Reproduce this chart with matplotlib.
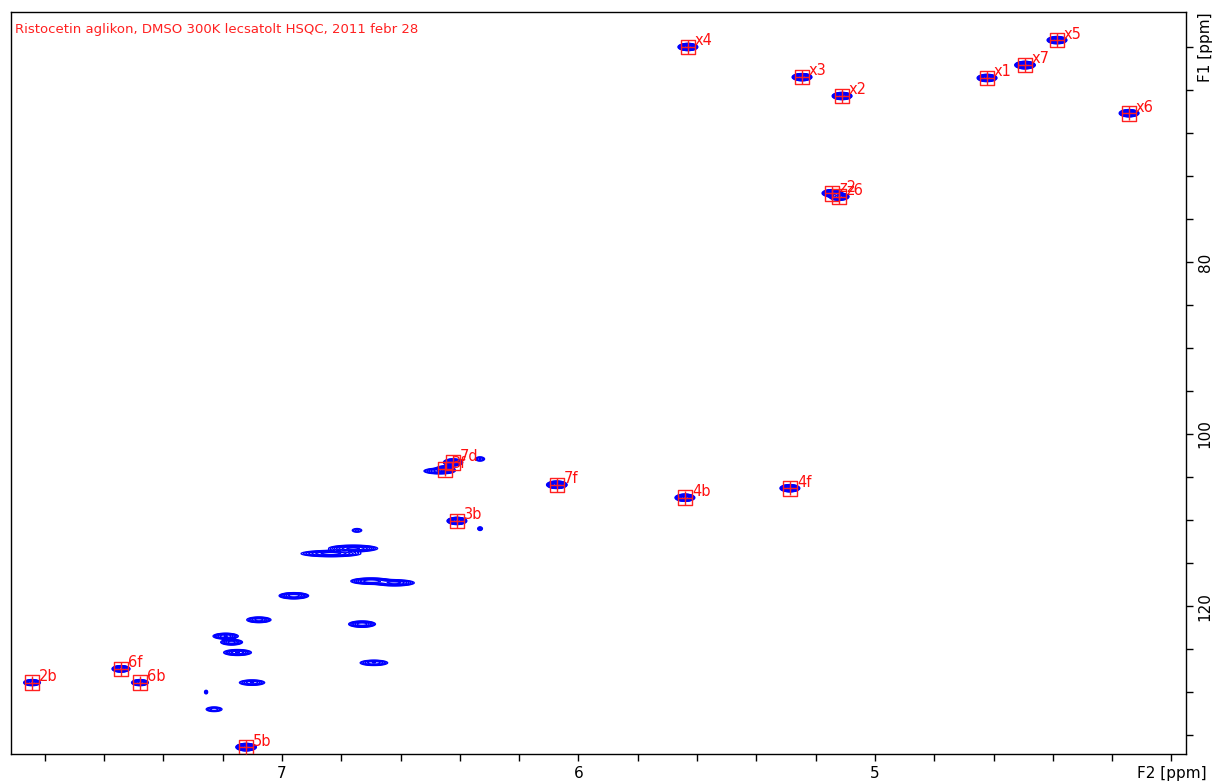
import numpy as np
import matplotlib
matplotlib.use("Agg")
from matplotlib import pyplot as plt

# assigned cross peaks (F2 = 1H, F1 = 13C, ppm)
labels = ["x4", "x3", "x2", "z2", "z6", "x1", "x7", "x5", "x6",
          "7d", "3f", "7f", "3b", "4b", "4f", "2b", "6f", "6b", "5b"]
lab_h = [5.631, 5.246, 5.111, 5.145, 5.121, 4.622, 4.494, 4.386, 4.143,
         6.423, 6.450, 6.073, 6.410, 5.641, 5.287, 7.843, 7.543, 7.479, 7.121]
lab_c = [55.0, 58.5, 60.7, 72.0, 72.4, 58.6, 57.1, 54.2, 62.7,
         103.3, 104.1, 105.9, 110.1, 107.4, 106.3, 128.9, 127.3, 128.9, 136.4]
lab_int = [6, 6, 6, 6, 6, 6, 8, 6, 6,
           5, 4, 8, 6, 6, 6, 2, 3, 2, 8]

# unassigned (aromatic region) peaks
un_h = [6.332, 6.332, 6.747, 6.835, 6.76, 6.70, 6.62, 6.96, 6.73, 6.69,
        7.078, 7.19, 7.17, 7.15, 7.101, 7.256, 7.229, 6.47]
un_c = [102.9, 111.0, 111.2, 113.9, 113.3, 117.1, 117.3, 118.8, 122.1, 126.6,
        121.6, 123.5, 124.2, 125.4, 128.9, 130.0, 132.0, 104.3]
un_int = [0.4, 0.3, 0.3, 1.5, 2.0, 1.6, 1.4, 1.6, 1.6, 0.8,
          1.0, 1.2, 1.0, 1.2, 0.8, 0.3, 0.5, 1.0]
un_wh = [0.010, 0.006, 0.012, 0.045, 0.035, 0.030, 0.030, 0.022, 0.020, 0.024,
         0.020, 0.020, 0.018, 0.022, 0.022, 0.004, 0.016, 0.025]

title = "Ristocetin aglikon, DMSO 300K lecsatolt HSQC, 2011 febr 28"

# build a 2D surface from the peak lists
h = np.linspace(3.95, 7.92, 1400)
c = np.linspace(50.9, 137.3, 1000)
H, C = np.meshgrid(h, c)
Z = np.zeros_like(H)
for ph, pc, a in zip(lab_h, lab_c, lab_int):
    Z += a * np.exp(-((H - ph) / 0.012) ** 2 / 2 - ((C - pc) / 0.15) ** 2 / 2)
for ph, pc, a, w in zip(un_h, un_c, un_int, un_wh):
    Z += a * np.exp(-((H - ph) / w) ** 2 / 2 - ((C - pc) / 0.16) ** 2 / 2)

fig = plt.figure(figsize=(12.13, 7.82), dpi=100)
ax = fig.add_axes([11 / 1213, 1 - 754 / 782, 1175 / 1213, 742 / 782])

levels = 0.12 * 1.45 ** np.arange(12)
ax.contour(H, C, Z, levels=levels, colors="#0000ff", linewidths=0.9)

ax.scatter(lab_h, lab_c, marker="s", s=110, facecolors="none",
           edgecolors="#ff2020", linewidths=1.0, zorder=3)
ax.scatter(lab_h, lab_c, marker="+", s=110, color="#ff2020",
           linewidths=1.0, zorder=3)
for t, ph, pc in zip(labels, lab_h, lab_c):
    ax.annotate(t, (ph, pc), xytext=(5, -1), textcoords="offset points",
                color="#ff1010", fontsize=10.5, va="bottom", ha="left")

ax.text(0.003, 0.985, title, transform=ax.transAxes, color="#ff2020",
        fontsize=9.5, va="top", ha="left")

ax.set_xlim(7.914, 3.951)
ax.set_ylim(137.2, 50.93)

xt = np.round(np.arange(4.0, 7.81, 0.2), 1)
ax.set_xticks(xt)
ax.set_xticklabels([("F2 [ppm]" if v == 4.0 else (str(int(v)) if abs(v - round(v)) < 1e-6 else ""))
                    for v in xt], fontsize=11)
yt = np.arange(55, 136, 5)
ax.set_yticks(yt)
ax.set_yticklabels([("F1 [ppm]" if v == 55 else (str(v) if v in (80, 100, 120) else "")) for v in yt],
                   rotation=90, va="center", fontsize=11)
ax.yaxis.tick_right()
ax.tick_params(axis="both", direction="out", length=5, width=1)
for s in ax.spines.values():
    s.set_linewidth(1)

fig.savefig("out.png", dpi=100)
